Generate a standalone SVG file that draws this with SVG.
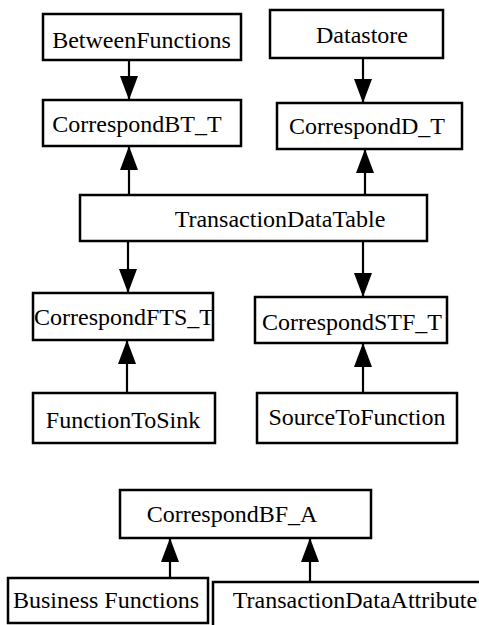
<svg xmlns="http://www.w3.org/2000/svg" width="479" height="625" viewBox="0 0 479 625">
<style>
  .box { fill: #ffffff; stroke: #000000; stroke-width: 2.5; }
  .lbl { font-family: "Liberation Serif", "Times New Roman", serif; font-size: 24px; fill: #000000; text-anchor: middle; }
  .edge { stroke: #000000; stroke-width: 2.2; fill: none; marker-end: url(#arrow); }
</style>
<defs>
  <marker id="arrow" markerUnits="userSpaceOnUse" markerWidth="24" markerHeight="18" refX="24" refY="9" orient="auto">
    <path d="M0,0 L24,9 L0,18 z" fill="#000000"/>
  </marker>
</defs>
<rect width="479" height="625" fill="#ffffff"/>
<g id="connectors">
  <line class="edge" x1="129" y1="60" x2="129" y2="100"/>
  <line class="edge" x1="363" y1="58" x2="363" y2="103"/>
  <line class="edge" x1="129" y1="195" x2="129" y2="146"/>
  <line class="edge" x1="365" y1="195" x2="365" y2="149"/>
  <line class="edge" x1="128" y1="241" x2="128" y2="293"/>
  <line class="edge" x1="363" y1="241" x2="363" y2="297"/>
  <line class="edge" x1="127" y1="393" x2="127" y2="340"/>
  <line class="edge" x1="363" y1="393" x2="363" y2="343"/>
  <line class="edge" x1="170" y1="578" x2="170" y2="538"/>
  <line class="edge" x1="310" y1="582" x2="310" y2="538"/>
</g>
<g id="BetweenFunctions"><rect class="box" x="43" y="14" width="198" height="46"/><text class="lbl" x="141.5" y="48">BetweenFunctions</text></g>
<g id="Datastore"><rect class="box" x="270" y="10" width="173" height="48"/><text class="lbl" x="362" y="43">Datastore</text></g>
<g id="CorrespondBT_T"><rect class="box" x="43" y="100" width="198" height="46"/><text class="lbl" x="137" y="132">CorrespondBT_T</text></g>
<g id="CorrespondD_T"><rect class="box" x="277" y="103" width="185" height="46"/><text class="lbl" x="367" y="134">CorrespondD_T</text></g>
<g id="TransactionDataTable"><rect class="box" x="80" y="195" width="347" height="46"/><text class="lbl" x="280" y="227">TransactionDataTable</text></g>
<g id="CorrespondFTS_T"><rect class="box" x="33" y="293" width="180" height="47"/><text class="lbl" x="124" y="325">CorrespondFTS_T</text></g>
<g id="CorrespondSTF_T"><rect class="box" x="255" y="297" width="192" height="46"/><text class="lbl" x="352" y="330">CorrespondSTF_T</text></g>
<g id="FunctionToSink"><rect class="box" x="33" y="393" width="182" height="50"/><text class="lbl" x="123" y="428">FunctionToSink</text></g>
<g id="SourceToFunction"><rect class="box" x="257" y="393" width="200" height="50"/><text class="lbl" x="357" y="425">SourceToFunction</text></g>
<g id="CorrespondBF_A"><rect class="box" x="120" y="490" width="251" height="48"/><text class="lbl" x="232" y="522">CorrespondBF_A</text></g>
<g id="BusinessFunctions"><rect class="box" x="8" y="578" width="200" height="45"/><text class="lbl" x="106" y="608">Business Functions</text></g>
<g id="TransactionDataAttribute"><rect class="box" x="213" y="582" width="285" height="60"/><text class="lbl" x="355" y="608">TransactionDataAttribute</text></g>
</svg>
